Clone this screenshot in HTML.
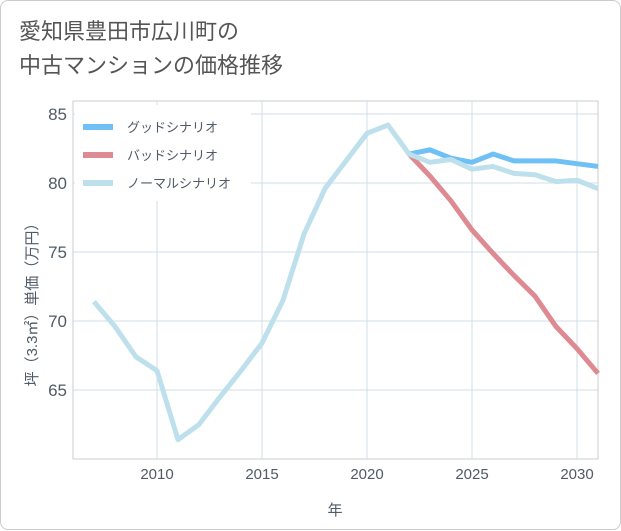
<!DOCTYPE html>
<html><head><meta charset="utf-8"><style>
body{margin:0;background:#fff;}
.card{position:absolute;left:0;top:0;width:619px;height:528px;border:1px solid #ccc;border-radius:8px;background:#fff;font-family:"Liberation Sans","Noto Sans CJK JP",sans-serif;}
.title{position:absolute;left:18px;top:14px;font-size:22px;line-height:34px;color:#555;}
svg{position:absolute;left:0;top:0;}
text{font-family:"Liberation Sans","Noto Sans CJK JP",sans-serif;}
</style></head><body>
<div class="card">
<div class="title">愛知県豊田市広川町の<br>中古マンションの価格推移</div>
<svg id="chart" width="621" height="530"></svg>
</div>
<script>
const years=[2007,2008,2009,2010,2011,2012,2013,2014,2015,2016,2017,2018,2019,2020,2021,2022,2023,2024,2025,2026,2027,2028,2029,2030,2031];
const normalVals=[71.4,69.6,67.4,66.4,61.4,62.5,64.5,66.4,68.4,71.5,76.3,79.6,81.6,83.6,84.2,82.1,81.5,81.7,81.0,81.2,80.7,80.6,80.1,80.2,79.6];
const futureYears=[2022,2023,2024,2025,2026,2027,2028,2029,2030,2031];
const goodVals=[82.1,82.4,81.8,81.5,82.1,81.6,81.6,81.6,81.4,81.2];
const badVals=[82.1,80.5,78.7,76.6,74.9,73.3,71.8,69.6,68.0,66.2];
const xTicks=[2010,2015,2020,2025,2030];
const yTicks=[65,70,75,80,85];
const NS="http://www.w3.org/2000/svg";
const svg=document.getElementById('chart');
const L=72,R=597,T=100,B=458;
const x=y=>L+(y-2006)*(R-L)/25;
const yv=v=>389-(v-65)*13.8;
function mk(tag,attrs,parent){const e=document.createElementNS(NS,tag);for(const k in attrs)e.setAttribute(k,attrs[k]);(parent||svg).appendChild(e);return e;}
let e=mk('rect',{x:L,y:T,width:R-L,height:B-T,fill:'none',stroke:'#ccc'});


xTicks.forEach(t=>{
 let g=mk('line',{x1:x(t),x2:x(t),y1:T,y2:B,stroke:'#cfdfe6'});
 
 
 let l=mk('text',{x:x(t),y:478,'text-anchor':'middle','font-size':15,fill:'#4f5b66'});l.textContent=t;
 
 
});
yTicks.forEach(t=>{
 let g=mk('line',{x1:L,x2:R,y1:yv(t),y2:yv(t),stroke:'#cfdfe6'});
 
 
 let l=mk('text',{x:66,y:yv(t)+6,'text-anchor':'end','font-size':17,fill:'#4f5b66'});l.textContent=t;
 
 
});
let xt=mk('text',{x:334,y:514,'text-anchor':'middle','font-size':15,fill:'#4f5b66'});xt.textContent='年';


let yt=mk('text',{x:0,y:0,'text-anchor':'middle','font-size':15,fill:'#4f5b66',transform:'translate(36,300) rotate(-90)'});yt.textContent='坪（3.3㎡）単価（万円）';


function line(xs,vs,color,name){
 const p=mk('polyline',{points:xs.map((t,i)=>x(t)+','+yv(vs[i])).join(' '),fill:'none',stroke:color,'stroke-width':5,'stroke-linejoin':'round'});
 
 
}
line(futureYears,goodVals,'#6ec0f5','good-scenario-line');
line(futureYears,badVals,'#de8a92','bad-scenario-line');
line(years,normalVals,'#bde0ec','normal-scenario-line');
let lb=mk('rect',{x:74,y:104,width:176,height:96,fill:'#fff'});


[['グッドシナリオ','#6ec0f5',126],['バッドシナリオ','#de8a92',154],['ノーマルシナリオ','#bde0ec',182]].forEach(([n,c,yy])=>{
 let s=mk('rect',{x:82,y:yy-3,width:30,height:6,fill:c});
 
 
 let t=mk('text',{x:126,y:yy+5,'font-size':13,fill:'#4f5b66'});t.textContent=n;
 
 
});
</script>
</body></html>
